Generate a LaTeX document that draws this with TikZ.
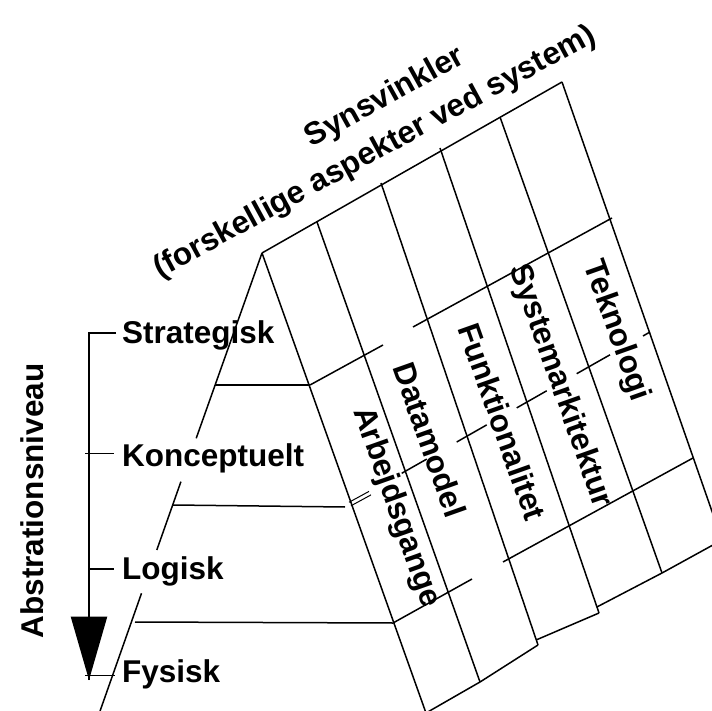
\documentclass[tikz,border=0pt]{standalone}
\usepackage{fontspec}
\setmainfont{Liberation Sans}
\usetikzlibrary{calc}
\begin{document}
\begin{tikzpicture}[x=1pt,y=-1pt,
  ln/.style={line width=1.5pt},
  lbl/.style={font=\fontsize{31.5}{31.5}\selectfont\bfseries, inner sep=0pt},
  collbl/.style={lbl, rotate=-70.5},
  toplbl/.style={lbl, rotate=28.5}]
\useasboundingbox (0,0) rectangle (712,711);
\clip (0,0) rectangle (712,711);

% ---- abstraction axis ----
\node[lbl, rotate=90] (abs) at (32,501) {Abstrationsniveau};
\node[lbl, anchor=base west] (strat) at (122,343) {Strategisk};
\node[lbl, anchor=base west] (konc) at (122,466) {Konceptuelt};
\node[lbl, anchor=base west] (logi) at (122,579) {Logisk};
\node[lbl, anchor=base west] (fys) at (122,682) {Fysisk};

\coordinate (axtop) at (89,333);
\coordinate (axtip) at (89,680);
\draw[ln] (116,333) -- (axtop) -- (axtip);
\draw[ln] (85,453.3) -- (113.5,453.3);
\draw[ln] (89,569) -- (113.5,569);
\draw[ln] (85,675.7) -- (115,675.7);
\fill (70.7,616.7) -- (107.3,616.7) -- (axtip) -- cycle;

% ---- pyramid ----
\coordinate (t0) at (262,253);
\draw[ln] (t0) -- (196.2,438.3);
\draw[ln] (180.9,481.7) -- (156.8,550);
\draw[ln] (141.5,593.3) -- (99,714);
\draw[ln] (215,385) -- (310,385);
\draw[ln] (173,505) -- (345,507);
\draw[ln] (135,622) -- (393,623);

% ---- column grid ----
\coordinate (t1) at (317,222);
\coordinate (t2) at (381,183);
\coordinate (t3) at (440,148);
\coordinate (t4) at (500,117);
\coordinate (t5) at (562,82);
\coordinate (b0) at (426,713);
\coordinate (b1) at (480,682);
\coordinate (b2) at (538,645);
\coordinate (b3) at (599,613);
\coordinate (b4) at (662,573);
\coordinate (b5) at (722,540);

\draw[ln] (t0) -- (t5);
\foreach \i in {0,...,5} { \draw[ln] (t\i) -- (b\i); }
\draw[ln] (b0) -- (b1) -- (b2);
\draw[ln] ($(t2)!0.989!(b2)$) -- (b3);
\draw[ln] ($(t3)!0.987!(b3)$) -- (b4) -- (b5);

% level 1
\draw[ln] (310,385) -- (383,345);
\draw[ln] (413,327) -- (612,218);
% level 2 (visible near the column lines)
\draw[line width=1pt] (349,502.3) -- (369,491.4);
\draw[line width=1pt] (351,505.8) -- (371,494.9);
\draw[ln] (401.7,473.3) -- (426.7,459.1);
\draw[ln] (456.7,442.0) -- (486.7,424.9);
\draw[ln] (516.7,407.9) -- (546.7,390.8);
\draw[ln] (576.7,373.7) -- (610,354.8);
\draw[ln] (643,336.0) -- (650,332.0);
% level 3
\draw[ln] (393,623) -- (472,579);
\draw[ln] (503,562) -- (693,458);

% ---- column labels ----
\node[collbl] (arb) at (396,507.5) {Arbejdsgange};
\node[collbl] (dat) at (430,440) {Datamodel};
\node[collbl] (fun) at (502.5,421.7) {Funktionalitet};
\node[collbl] (sys) at (560,386) {Systemarkitektur};
\node[collbl] (tek) at (616,331) {Teknologi};

% ---- heading ----
\node[toplbl, rotate=0.5] (syn) at (385.3,98) {Synsvinkler};
\node[toplbl] (sub) at (375,152.5) {(forskellige aspekter ved system)};
\end{tikzpicture}
\end{document}
